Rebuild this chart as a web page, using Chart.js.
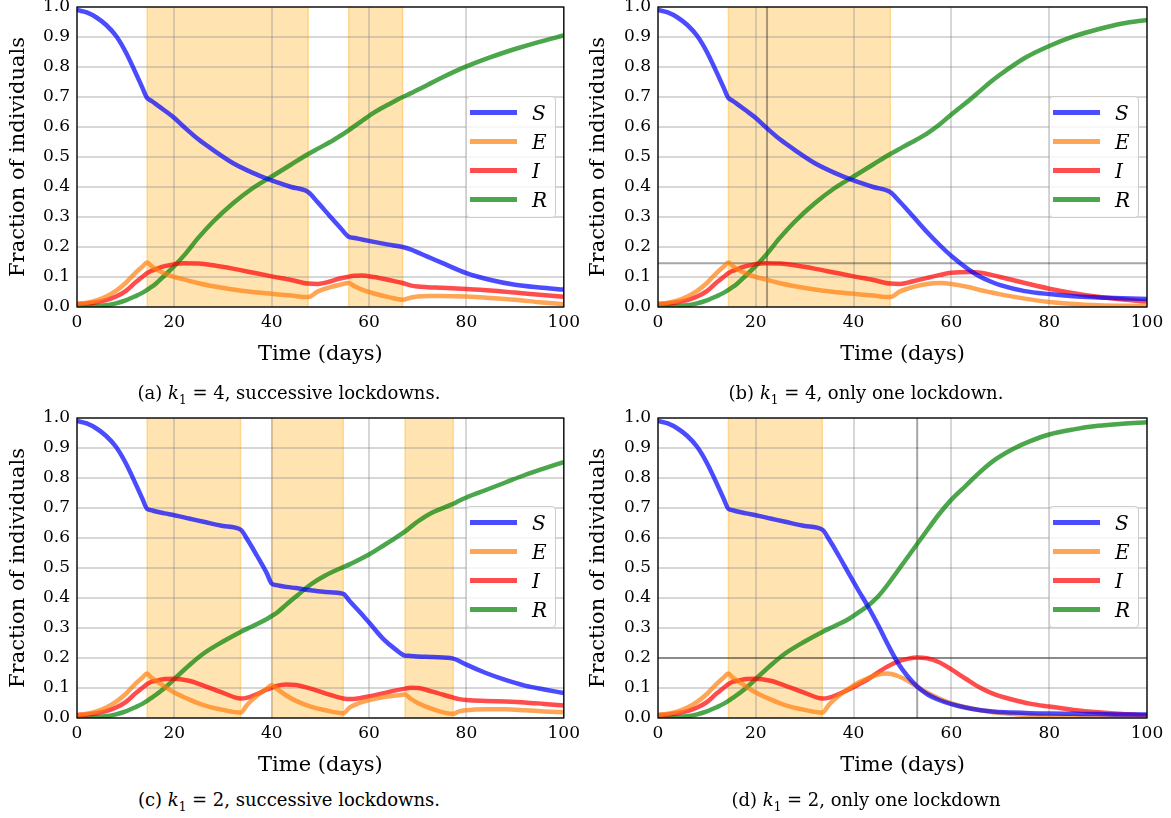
<!DOCTYPE html>
<html>
<head>
<meta charset="utf-8">
<script src="https://cdn.jsdelivr.net/npm/chart.js@4.4.1/dist/chart.umd.min.js"></script>
<style>
  body { margin: 0; width: 1171px; height: 818px; position: relative; overflow: hidden; background: #fff; font-family: "DejaVu Serif", serif; }
  canvas { position: absolute; }
  .caption { position: absolute; text-align: center; font-size: 18px; line-height: 24px; color: #000; }
  .caption sub { font-size: 12px; }
  .legend { position: absolute; width: 88px; padding: 1px 0 3px 0; background: rgba(255,255,255,0.8); border: 1px solid #cccccc; border-radius: 4px; }
  .legend .row { height: 29px; display: flex; align-items: center; }
  .legend .sw { width: 47px; height: 5px; margin-left: 3px; }
  .legend .lb { margin-left: 15px; font-style: italic; font-size: 20px; }
</style>
</head>
<body>
<canvas id="chartA" width="585" height="380" style="left:0px;top:-13px"></canvas>
<canvas id="chartB" width="590" height="380" style="left:580px;top:-13px"></canvas>
<canvas id="chartC" width="585" height="380" style="left:0px;top:398px"></canvas>
<canvas id="chartD" width="590" height="380" style="left:580px;top:398px"></canvas>

<div class="caption" style="left:0px;top:381px;width:578px">(a) <i>k</i><sub>1</sub> = 4, successive lockdowns.</div>
<div class="caption" style="left:576px;top:381px;width:580px">(b) <i>k</i><sub>1</sub> = 4, only one lockdown.</div>
<div class="caption" style="left:0px;top:788px;width:578px">(c) <i>k</i><sub>1</sub> = 2, successive lockdowns.</div>
<div class="caption" style="left:576px;top:788px;width:580px">(d) <i>k</i><sub>1</sub> = 2, only one lockdown</div>

<div class="legend" id="legA" style="left:466px;top:96px"></div>
<div class="legend" id="legB" style="left:1049px;top:96px"></div>
<div class="legend" id="legC" style="left:466px;top:506px"></div>
<div class="legend" id="legD" style="left:1049px;top:506px"></div>

<script>
// series names and colours
const seriesNames = ['S', 'E', 'I', 'R'];
const seriesColors = ['rgba(0,0,255,0.7)', 'rgba(255,127,14,0.7)', 'rgba(255,0,0,0.7)', 'rgba(0,128,0,0.7)'];

// axis ticks
const xTicks = [0, 20, 40, 60, 80, 100];
const yTicks = [0, 0.1, 0.2, 0.3, 0.4, 0.5, 0.6, 0.7, 0.8, 0.9, 1.0];

// (a) k1 = 4, successive lockdowns
const tA = [0, 2, 4, 6, 8, 10, 12, 13.4, 14.4, 15.2, 16, 18, 20, 22, 25, 28, 32, 36, 40, 44, 47.5, 49.5, 52, 54, 55.8, 57, 58.5, 61, 64, 66.9, 68.5, 70, 72, 75, 80, 85, 90, 95, 100];
const sA = [0.99, 0.982, 0.965, 0.94, 0.904, 0.85, 0.782, 0.732, 0.697, 0.688, 0.679, 0.655, 0.63, 0.60, 0.558, 0.523, 0.48, 0.448, 0.422, 0.40, 0.383, 0.348, 0.302, 0.266, 0.234, 0.23, 0.225, 0.217, 0.208, 0.20, 0.192, 0.182, 0.168, 0.147, 0.113, 0.09, 0.074, 0.065, 0.058];
const eA = [0.009, 0.014, 0.022, 0.035, 0.054, 0.08, 0.114, 0.134, 0.148, 0.138, 0.128, 0.112, 0.1, 0.092, 0.079, 0.069, 0.058, 0.05, 0.044, 0.038, 0.033, 0.052, 0.066, 0.074, 0.08, 0.069, 0.058, 0.045, 0.033, 0.024, 0.031, 0.035, 0.037, 0.037, 0.035, 0.03, 0.024, 0.016, 0.009];
const iA = [0.01, 0.012, 0.016, 0.023, 0.035, 0.053, 0.082, 0.1, 0.113, 0.12, 0.125, 0.136, 0.143, 0.146, 0.145, 0.139, 0.128, 0.115, 0.102, 0.09, 0.078, 0.077, 0.085, 0.095, 0.101, 0.104, 0.105, 0.1, 0.09, 0.08, 0.072, 0.068, 0.066, 0.064, 0.06, 0.055, 0.048, 0.041, 0.034];
const rA = [0, 0.001, 0.003, 0.006, 0.012, 0.022, 0.036, 0.047, 0.057, 0.066, 0.075, 0.105, 0.137, 0.172, 0.232, 0.285, 0.345, 0.395, 0.435, 0.475, 0.51, 0.528, 0.55, 0.57, 0.589, 0.603, 0.62, 0.648, 0.675, 0.70, 0.712, 0.724, 0.74, 0.765, 0.802, 0.833, 0.86, 0.884, 0.905];
const lockA = [[14.4, 47.5], [55.8, 66.9]];

// (b) k1 = 4, only one lockdown
const tB = [0, 2, 4, 6, 8, 10, 12, 13.4, 14.4, 15.2, 16, 18, 20, 22, 25, 28, 32, 36, 40, 44, 47.5, 49.5, 52, 55, 57.7, 60, 63.7, 66, 68, 70, 75, 80, 85, 90, 95, 100];
const sB = [0.99, 0.982, 0.965, 0.94, 0.904, 0.85, 0.782, 0.732, 0.697, 0.688, 0.679, 0.655, 0.63, 0.60, 0.558, 0.523, 0.48, 0.448, 0.422, 0.40, 0.383, 0.35, 0.305, 0.25, 0.205, 0.17, 0.123, 0.1, 0.085, 0.073, 0.053, 0.043, 0.036, 0.032, 0.029, 0.027];
const eB = [0.009, 0.014, 0.022, 0.035, 0.054, 0.08, 0.114, 0.134, 0.148, 0.138, 0.128, 0.112, 0.1, 0.092, 0.079, 0.069, 0.058, 0.05, 0.044, 0.038, 0.033, 0.052, 0.066, 0.077, 0.08, 0.077, 0.066, 0.056, 0.049, 0.042, 0.028, 0.017, 0.01, 0.006, 0.004, 0.003];
const iB = [0.01, 0.012, 0.016, 0.023, 0.035, 0.053, 0.082, 0.1, 0.113, 0.12, 0.125, 0.136, 0.143, 0.146, 0.145, 0.139, 0.128, 0.115, 0.102, 0.09, 0.078, 0.077, 0.085, 0.097, 0.107, 0.114, 0.117, 0.114, 0.108, 0.1, 0.08, 0.061, 0.046, 0.034, 0.025, 0.018];
const rB = [0, 0.001, 0.003, 0.006, 0.012, 0.022, 0.036, 0.047, 0.057, 0.066, 0.075, 0.105, 0.137, 0.172, 0.232, 0.285, 0.345, 0.395, 0.435, 0.475, 0.51, 0.528, 0.55, 0.578, 0.61, 0.642, 0.69, 0.722, 0.75, 0.775, 0.83, 0.87, 0.902, 0.926, 0.945, 0.957];
const lockB = [[14.4, 47.5]];
const peakB = [22.3, 0.146];

// (c) k1 = 2, successive lockdowns
const tC = [0, 2, 4, 6, 8, 10, 12, 13.4, 14.4, 15.2, 16, 18, 20, 23, 26, 30, 33.6, 35, 37, 39, 40, 41, 43, 45, 48, 51, 54.7, 56, 58, 60, 63, 65.5, 67.4, 68.5, 70, 73, 77.3, 78.5, 80, 84, 88, 92, 96, 100];
const sC = [0.99, 0.982, 0.965, 0.94, 0.904, 0.85, 0.782, 0.732, 0.697, 0.693, 0.689, 0.682, 0.676, 0.665, 0.654, 0.64, 0.628, 0.595, 0.54, 0.482, 0.448, 0.443, 0.437, 0.433, 0.426, 0.42, 0.414, 0.39, 0.355, 0.318, 0.262, 0.228, 0.208, 0.207, 0.205, 0.203, 0.198, 0.19, 0.178, 0.15, 0.127, 0.108, 0.095, 0.083];
const eC = [0.009, 0.014, 0.022, 0.035, 0.054, 0.08, 0.114, 0.134, 0.148, 0.136, 0.127, 0.105, 0.085, 0.062, 0.043, 0.027, 0.018, 0.045, 0.075, 0.098, 0.11, 0.098, 0.075, 0.057, 0.038, 0.026, 0.016, 0.035, 0.05, 0.06, 0.07, 0.075, 0.078, 0.065, 0.05, 0.03, 0.014, 0.022, 0.026, 0.029, 0.029, 0.026, 0.022, 0.019];
const iC = [0.01, 0.012, 0.016, 0.023, 0.035, 0.053, 0.082, 0.1, 0.113, 0.12, 0.123, 0.13, 0.131, 0.124, 0.108, 0.084, 0.065, 0.068, 0.08, 0.095, 0.1, 0.107, 0.112, 0.11, 0.098, 0.082, 0.065, 0.063, 0.066, 0.072, 0.083, 0.092, 0.098, 0.101, 0.1, 0.088, 0.068, 0.063, 0.06, 0.057, 0.055, 0.052, 0.047, 0.042];
const rC = [0, 0.001, 0.003, 0.006, 0.012, 0.022, 0.036, 0.047, 0.057, 0.066, 0.075, 0.10, 0.13, 0.175, 0.215, 0.255, 0.287, 0.298, 0.313, 0.33, 0.34, 0.35, 0.378, 0.405, 0.445, 0.475, 0.503, 0.512, 0.528, 0.545, 0.575, 0.601, 0.622, 0.636, 0.655, 0.685, 0.714, 0.724, 0.735, 0.76, 0.785, 0.81, 0.832, 0.853];
const lockC = [[14.4, 33.6], [40, 54.7], [67.4, 77.3]];

// (d) k1 = 2, only one lockdown
const tD = [0, 2, 4, 6, 8, 10, 12, 13.4, 14.4, 15.2, 16, 18, 20, 23, 26, 30, 33.6, 35, 37, 39, 41, 43, 45, 47, 49, 51, 53, 55, 57.5, 60, 63, 66, 69, 72.6, 76, 80, 85, 90, 95, 100];
const sD = [0.99, 0.982, 0.965, 0.94, 0.904, 0.85, 0.782, 0.732, 0.697, 0.693, 0.689, 0.682, 0.676, 0.665, 0.654, 0.64, 0.628, 0.595, 0.54, 0.482, 0.425, 0.37, 0.31, 0.245, 0.185, 0.14, 0.105, 0.08, 0.06, 0.046, 0.034, 0.026, 0.021, 0.018, 0.016, 0.015, 0.014, 0.013, 0.012, 0.012];
const eD = [0.009, 0.014, 0.022, 0.035, 0.054, 0.08, 0.114, 0.134, 0.148, 0.136, 0.127, 0.105, 0.085, 0.062, 0.043, 0.027, 0.018, 0.045, 0.075, 0.098, 0.118, 0.133, 0.145, 0.148, 0.14, 0.125, 0.104, 0.085, 0.065, 0.049, 0.036, 0.026, 0.018, 0.013, 0.009, 0.006, 0.004, 0.003, 0.002, 0.002];
const iD = [0.01, 0.012, 0.016, 0.023, 0.035, 0.053, 0.082, 0.1, 0.113, 0.12, 0.123, 0.13, 0.131, 0.124, 0.108, 0.084, 0.065, 0.068, 0.08, 0.095, 0.112, 0.13, 0.152, 0.172, 0.188, 0.197, 0.202, 0.199, 0.186, 0.162, 0.13, 0.1, 0.078, 0.061, 0.048, 0.038, 0.027, 0.019, 0.013, 0.009];
const rD = [0, 0.001, 0.003, 0.006, 0.012, 0.022, 0.036, 0.047, 0.057, 0.066, 0.075, 0.10, 0.13, 0.175, 0.215, 0.255, 0.287, 0.298, 0.313, 0.33, 0.352, 0.375, 0.405, 0.445, 0.49, 0.535, 0.58, 0.625, 0.68, 0.728, 0.775, 0.822, 0.862, 0.897, 0.922, 0.945, 0.962, 0.974, 0.981, 0.986];
const lockD = [[14.4, 33.6]];
const peakD = [53, 0.2];

const FONT = 'DejaVu Serif';

// lockdown shading under the grid, peak lines and frame
const panelDeco = {
  id: 'panelDeco',
  beforeDraw(chart, args, opts) {
    const ctx = chart.ctx;
    const area = chart.chartArea;
    const x = chart.scales.x;
    ctx.save();
    (opts.spans || []).forEach(([a, b]) => {
      const x1 = x.getPixelForValue(a);
      const x2 = x.getPixelForValue(b);
      ctx.fillStyle = 'rgba(255,165,0,0.3)';
      ctx.fillRect(x1, area.top, x2 - x1, area.bottom - area.top);
      ctx.strokeStyle = 'rgba(255,165,0,0.35)';
      ctx.lineWidth = 1.5;
      ctx.beginPath();
      ctx.moveTo(x1, area.top); ctx.lineTo(x1, area.bottom);
      ctx.moveTo(x2, area.top); ctx.lineTo(x2, area.bottom);
      ctx.stroke();
    });
    ctx.restore();
  },
  beforeDatasetsDraw(chart, args, opts) {
    if (!opts.peak) return;
    const ctx = chart.ctx;
    const area = chart.chartArea;
    const px = chart.scales.x.getPixelForValue(opts.peak[0]);
    const py = chart.scales.y.getPixelForValue(opts.peak[1]);
    ctx.save();
    ctx.strokeStyle = 'rgba(0,0,0,0.35)';
    ctx.lineWidth = 2;
    ctx.beginPath();
    ctx.moveTo(px, area.top); ctx.lineTo(px, area.bottom);
    ctx.moveTo(area.left, py); ctx.lineTo(area.right, py);
    ctx.stroke();
    ctx.restore();
  },
  afterDraw(chart) {
    const ctx = chart.ctx;
    const area = chart.chartArea;
    ctx.save();
    ctx.strokeStyle = '#000';
    ctx.lineWidth = 1.3;
    ctx.strokeRect(area.left, area.top, area.right - area.left, area.bottom - area.top);
    ctx.restore();
  }
};

function makePanel(id, t, series, spans, peak, yWidth, rightPad) {
  const datasets = series.map((vals, k) => ({
    label: seriesNames[k],
    data: t.map((tt, j) => ({ x: tt, y: vals[j] })),
    borderColor: seriesColors[k],
    borderWidth: 4.5,
    pointRadius: 0,
    fill: false,
    cubicInterpolationMode: 'monotone'
  }));
  const gridStyle = { color: 'rgba(140,140,140,0.35)', lineWidth: 2, drawTicks: false };
  return new Chart(document.getElementById(id), {
    type: 'line',
    data: { datasets: datasets },
    plugins: [panelDeco],
    options: {
      responsive: false,
      animation: false,
      layout: { padding: { top: 20, right: rightPad, left: 0, bottom: 0 } },
      plugins: {
        legend: { display: false },
        tooltip: { enabled: false },
        panelDeco: { spans: spans, peak: peak }
      },
      scales: {
        x: {
          type: 'linear', min: 0, max: 100,
          afterBuildTicks: (s) => { s.ticks = xTicks.map(v => ({ value: v })); },
          afterFit: (s) => { s.height = 60; },
          grid: gridStyle,
          border: { display: false },
          ticks: { color: '#000', padding: 5, font: { family: FONT, size: 17 } },
          title: { display: true, text: 'Time (days)', color: '#000', padding: 0, font: { family: FONT, size: 21 } }
        },
        y: {
          min: 0, max: 1,
          afterBuildTicks: (s) => { s.ticks = yTicks.map(v => ({ value: v })); },
          afterFit: (s) => { s.width = yWidth; },
          grid: gridStyle,
          border: { display: false },
          ticks: { color: '#000', padding: 7, font: { family: FONT, size: 17 }, callback: (v) => v.toFixed(1) },
          title: { display: true, text: 'Fraction of individuals', color: '#000', padding: { top: 6, bottom: 0 }, font: { family: FONT, size: 21 } }
        }
      }
    }
  });
}

function makeLegend(id) {
  const box = document.getElementById(id);
  seriesNames.forEach((name, k) => {
    const row = document.createElement('div');
    row.className = 'row';
    row.innerHTML = `<span class="sw" style="background:${seriesColors[k]}"></span><span class="lb">${name}</span>`;
    box.appendChild(row);
  });
}

makePanel('chartA', tA, [sA, eA, iA, rA], lockA, null, 77, 19);
makePanel('chartB', tB, [sB, eB, iB, rB], lockB, peakB, 78, 23);
makePanel('chartC', tC, [sC, eC, iC, rC], lockC, null, 77, 19);
makePanel('chartD', tD, [sD, eD, iD, rD], lockD, peakD, 78, 23);
['legA', 'legB', 'legC', 'legD'].forEach(makeLegend);
</script>
</body>
</html>
